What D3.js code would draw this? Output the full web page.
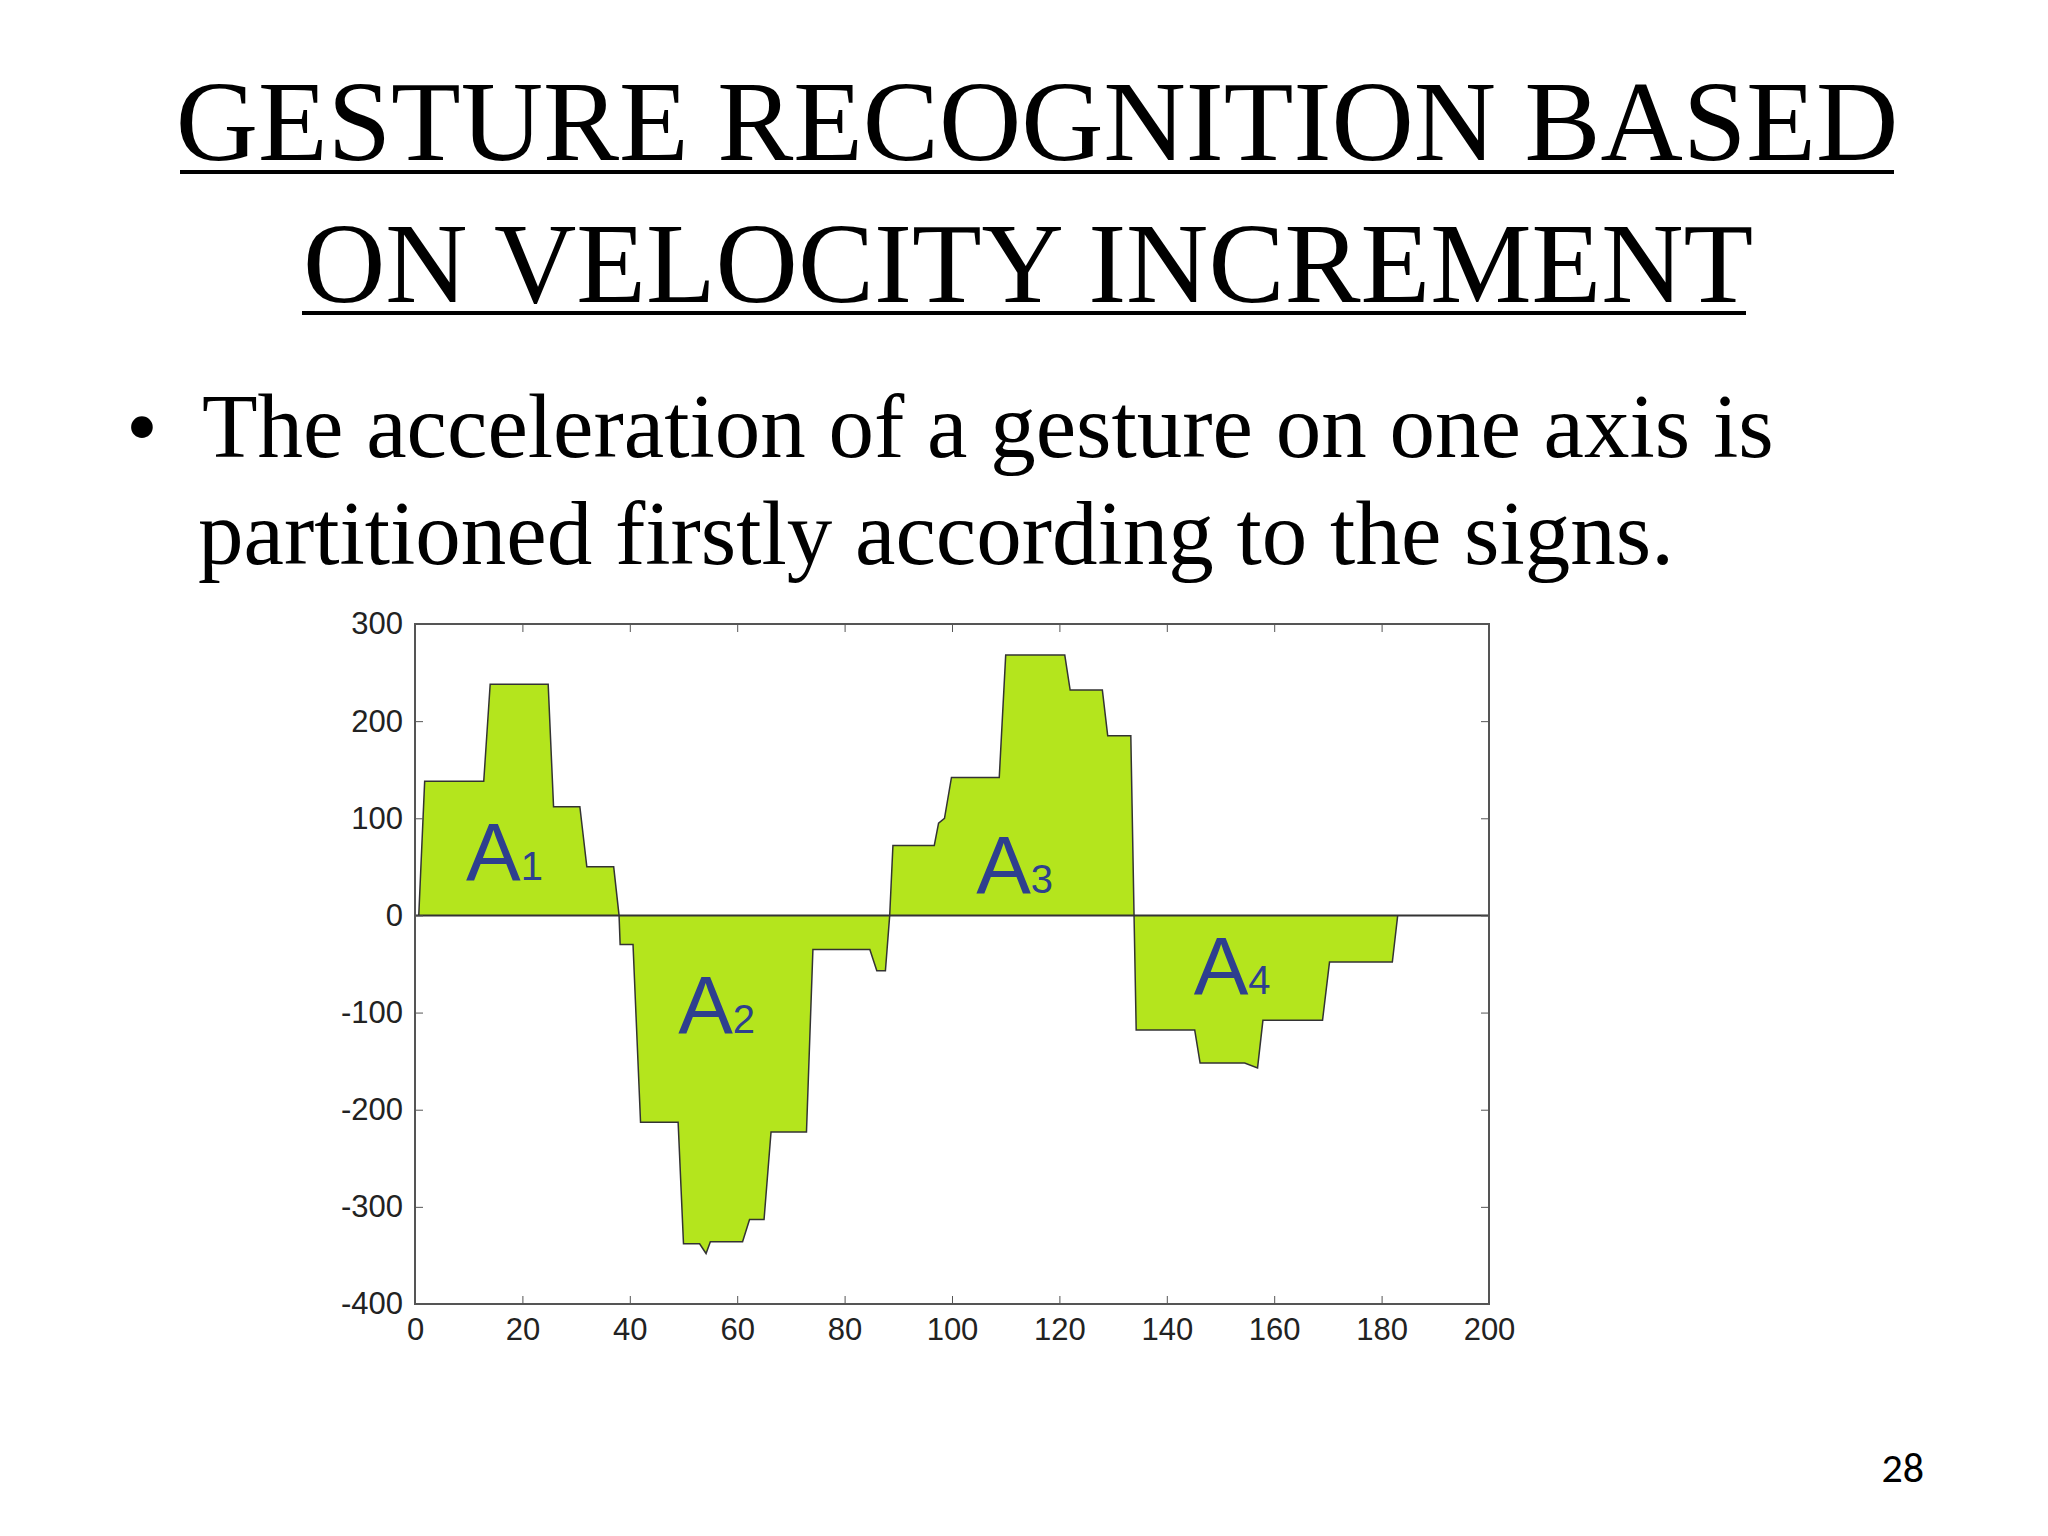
<!DOCTYPE html>
<html><head><meta charset="utf-8">
<script src="https://cdn.jsdelivr.net/npm/d3@7"></script>
<style>body{margin:0;background:#fff}</style>
</head><body>
<script>
// acceleration step trace (time, value)
var timeVals = [0.7,1.8,12.8,14,24.8,25.8,30.7,32,37,38,38.2,40.6,42,49,50,53,54.2,55,61,62.3,65,66.3,72.9,74.1,84.7,86,87.6,88.4,89,96.7,97.5,98.6,99.9,108.8,110,121,122,128,129,133.3,133.9,134.3,145.2,146.2,154.5,156.9,157.9,169,170.3,182,183];
var accVals  = [0,138,138,238,238,112,112,50,50,0,-30,-30,-213,-213,-338,-338,-348,-336,-336,-313,-313,-223,-223,-35,-35,-57,-57,0,72,72,95,100,142,142,268,268,232,232,185,185,0,-118,-118,-152,-152,-157,-108,-108,-48,-48,0];
var areaNames = ["A","A","A","A"];
var areaSubs = ["1","2","3","4"];
var areaX = [9.5,49,104.5,145];
var areaY = [36,-121,23,-81];
var xTicks = [0,20,40,60,80,100,120,140,160,180,200];
var yTicks = [300,200,100,0,-100,-200,-300,-400];

var svg = d3.select("body").append("svg").attr("width",2048).attr("height",1536)
  .style("font-family","'Liberation Serif','Times New Roman',serif");

var t = svg.append("g").attr("text-anchor","middle").attr("font-size",114);
t.append("text").attr("x",1037).attr("y",160).text("GESTURE RECOGNITION BASED");
t.append("text").attr("x",1028).attr("y",302).text("ON VELOCITY INCREMENT");
svg.append("line").attr("x1",180).attr("x2",1894).attr("y1",172).attr("y2",172).attr("stroke","#000").attr("stroke-width",4);
svg.append("line").attr("x1",302).attr("x2",1746).attr("y1",313).attr("y2",313).attr("stroke","#000").attr("stroke-width",4);

var b = svg.append("g").attr("font-size",91);
b.append("text").attr("x",126).attr("y",457).text("•");
b.append("text").attr("x",202).attr("y",457).text("The acceleration of a gesture on one axis is");
b.append("text").attr("x",198).attr("y",564).text("partitioned firstly according to the signs.");

svg.append("text").attr("x",1924).attr("y",1482).attr("text-anchor","end")
  .attr("font-family","Carlito,'Open Sans',sans-serif").attr("font-size",42).text("28");

var x = d3.scaleLinear().domain([0,200]).range([415,1489]);
var y = d3.scaleLinear().domain([-400,300]).range([1304,624]);
var g = svg.append("g").style("font-family","'Liberation Sans',Arial,sans-serif");

var pts = timeVals.map(function(d,i){return [d,accVals[i]];});
g.append("path").datum(pts)
  .attr("d", d3.area().x(function(d){return x(d[0]);}).y0(y(0)).y1(function(d){return y(d[1]);}))
  .attr("fill","#b4e51d");
g.append("path").datum(pts)
  .attr("d", d3.line().x(function(d){return x(d[0]);}).y(function(d){return y(d[1]);}))
  .attr("fill","none").attr("stroke","#333").attr("stroke-width",1.5);
g.append("line").attr("x1",x(0)).attr("x2",x(200)).attr("y1",y(0)).attr("y2",y(0)).attr("stroke","#333").attr("stroke-width",2);

g.append("rect").attr("x",x(0)).attr("y",y(300)).attr("width",x(200)-x(0)).attr("height",y(-400)-y(300))
  .attr("fill","none").attr("stroke","#555").attr("stroke-width",2);

var ax = function(a){ a.selectAll(".domain").remove(); a.selectAll("text").attr("font-size",31).attr("fill","#222"); a.selectAll("line").attr("stroke","#555"); };
g.append("g").attr("transform","translate(0,"+y(-400)+")").call(d3.axisBottom(x).tickValues(xTicks).tickSizeInner(-8).tickPadding(14)).call(ax);
g.append("g").attr("transform","translate(0,"+y(300)+")").call(d3.axisTop(x).tickValues(xTicks).tickSizeInner(-8).tickFormat("")).call(ax);
g.append("g").attr("transform","translate("+x(0)+",0)").call(d3.axisLeft(y).tickValues(yTicks).tickSizeInner(-8).tickPadding(12).tickFormat(function(d){return String(d);})).call(ax);
g.append("g").attr("transform","translate("+x(200)+",0)").call(d3.axisRight(y).tickValues(yTicks).tickSizeInner(-8).tickFormat("")).call(ax);

var lab = g.selectAll(".area-lab").data(areaNames).enter().append("text")
  .attr("x",function(d,i){return x(areaX[i]);}).attr("y",function(d,i){return y(areaY[i]);})
  .attr("fill","#2e3f8f").attr("font-size",82);
lab.append("tspan").text(function(d){return d;});
lab.append("tspan").attr("font-size",40).text(function(d,i){return areaSubs[i];});
</script>
</body></html>
